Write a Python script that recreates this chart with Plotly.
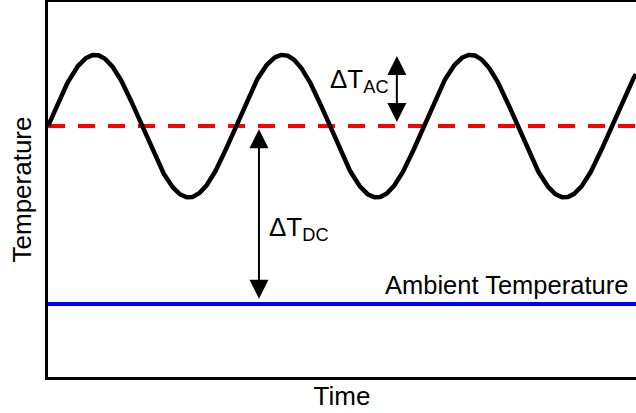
import numpy as np
import plotly.graph_objects as go

# Schematic levels (arbitrary temperature units, time in oscillation periods)
time_range = [0, 3.13]
temp_range = [0, 10]
mean_temp = 6.69        # DC level of the oscillating temperature
ac_amplitude = 1.9      # half peak-to-peak swing
ambient_temp = 1.95     # ambient reference level
period = 1.0

# Double-headed arrows: time position and the two levels they join
ac_arrow_t = 1.857
ac_arrow_levels = [mean_temp + 0.07, mean_temp + ac_amplitude - 0.03]
dc_arrow_t = 1.123
dc_arrow_levels = [ambient_temp + 0.1, mean_temp - 0.08]

t = np.linspace(time_range[0], time_range[1], 800)
temp = mean_temp + ac_amplitude * np.sin(2 * np.pi * t / period)

FONT = "Liberation Sans, Arial, sans-serif"

fig = go.Figure()

fig.add_trace(go.Scatter(
    x=time_range, y=[ambient_temp, ambient_temp], mode="lines",
    line=dict(color="#0000ff", width=4), hoverinfo="skip"))
fig.add_trace(go.Scatter(
    x=time_range, y=[mean_temp, mean_temp], mode="lines",
    line=dict(color="#ff0000", width=4, dash="17px,13px"), hoverinfo="skip"))
fig.add_trace(go.Scatter(
    x=t, y=temp, mode="lines",
    line=dict(color="black", width=4.5), hoverinfo="skip"))

arrow_style = dict(
    xref="x", yref="y", axref="x", ayref="y", text="", showarrow=True,
    arrowhead=2, startarrowhead=2, arrowside="end+start",
    arrowsize=1.9, startarrowsize=1.9, arrowwidth=2, arrowcolor="black")

for at, (low, high) in ((ac_arrow_t, ac_arrow_levels), (dc_arrow_t, dc_arrow_levels)):
    fig.add_annotation(x=at, y=high, ax=at, ay=low, **arrow_style)

label_font = dict(family=FONT, size=26, color="black")
fig.add_annotation(x=1.49, y=7.92, xref="x", yref="y", xanchor="left",
                   yanchor="middle", showarrow=False,
                   text="ΔT<sub>AC</sub>", font=label_font)
fig.add_annotation(x=1.165, y=3.95, xref="x", yref="y", xanchor="left",
                   yanchor="middle", showarrow=False,
                   text="ΔT<sub>DC</sub>", font=label_font)
fig.add_annotation(x=3.10, y=2.45, xref="x", yref="y", xanchor="right",
                   yanchor="middle", showarrow=False,
                   text="Ambient Temperature",
                   font=dict(family=FONT, size=25.5, color="black"))

fig.update_layout(
    width=636, height=413,
    margin=dict(l=48, r=0, t=2, b=36),
    paper_bgcolor="white", plot_bgcolor="white",
    showlegend=False,
    font=dict(family=FONT, size=26, color="black"),
)
fig.update_xaxes(
    range=time_range, showgrid=False, zeroline=False,
    showticklabels=False, ticks="",
    showline=True, linecolor="black", linewidth=3, mirror=True,
    title=dict(text="Time", font=dict(family=FONT, size=26), standoff=8),
)
fig.update_yaxes(
    range=temp_range, showgrid=False, zeroline=False,
    showticklabels=False, ticks="",
    showline=True, linecolor="black", linewidth=3,
    title=dict(text="Temperature", font=dict(family=FONT, size=26), standoff=6),
)

fig.write_html("out.html")
